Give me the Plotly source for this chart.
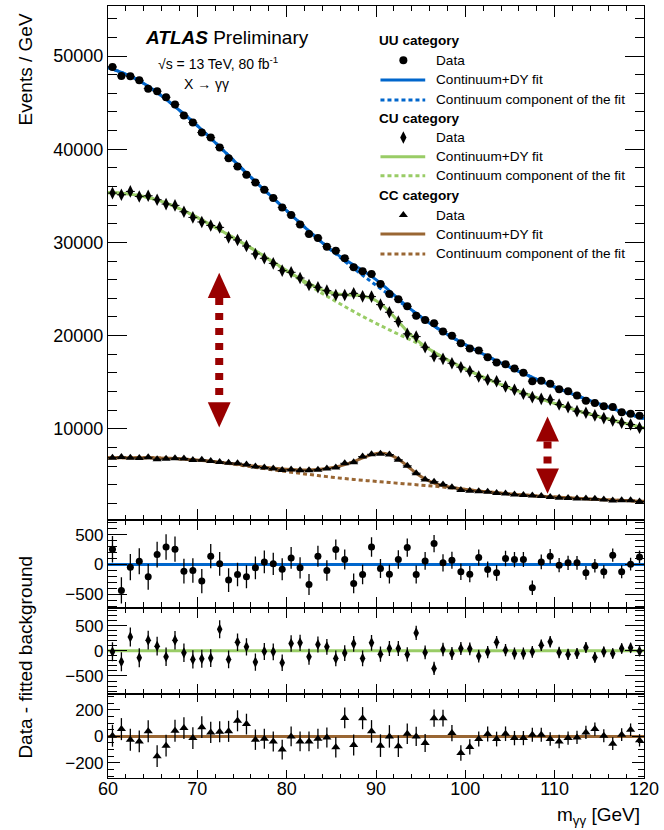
import numpy as np
import plotly.graph_objects as go

# ---------------- data ----------------
mass = np.arange(60.5, 120.0, 1.0)          # 1 GeV bin centres 60.5 ... 119.5
fit_x = np.concatenate([[60.0], mass, [120.0]])

uu_data = [48830, 47870, 47830, 47400, 46500, 46230, 45580, 44790, 43610, 42860,
           41790, 41250, 40180, 39040, 38150, 37260, 36430, 35650, 34760, 33750,
           32940, 31930, 30900, 30470, 29540, 29110, 28290, 27320, 26890, 26610,
           25540, 24470, 23890, 23140, 22140, 21680, 21320, 20430, 19970, 19170,
           18610, 18390, 17680, 17110, 16920, 16460, 16000, 15100, 15140, 14820,
           14250, 14030, 13570, 13000, 12750, 12420, 12320, 11780, 11610, 11390]
uu_fit = [48760, 48600, 48250, 47850, 47350, 46750, 46080, 45350, 44580, 43780, 42950,
          42080, 41180, 40250, 39320, 38380, 37450, 36520, 35620, 34740, 33850,
          32960, 32080, 31220, 30380, 29550, 28820, 28170, 27580, 26990, 26350,
          25620, 24800, 23950, 23130, 22380, 21680, 21020, 20400, 19830, 19280,
          18760, 18260, 17770, 17290, 16830, 16380, 15940, 15510, 15090, 14680,
          14290, 13910, 13540, 13180, 12830, 12490, 12160, 11840, 11530, 11230, 11080]
uu_cont = [48760, 48600, 48250, 47850, 47350, 46750, 46080, 45350, 44580, 43780, 42950,
           42080, 41180, 40250, 39320, 38380, 37450, 36520, 35620, 34740, 33850,
           32960, 32080, 31220, 30380, 29560, 28760, 27980, 27220, 26480, 25760,
           25060, 24380, 23720, 23070, 22370, 21680, 21020, 20400, 19830, 19280,
           18760, 18260, 17770, 17290, 16830, 16380, 15940, 15510, 15090, 14680,
           14290, 13910, 13540, 13180, 12830, 12490, 12160, 11840, 11530, 11230, 11080]
uu_res = [256, -433, -44, 56, -206, 167, 294, 256, -111, -100,
          -278, 139, 11, -261, -167, -206, -56, 44, 11, -78,
          111, -56, -333, 139, -100, 250, 83, -317, -167, 294,
          -67, -161, 83, 283, -167, 61, 350, 28, 72, -122,
          -161, 117, -83, -139, 100, 83, 83, -389, 44, 139,
          -11, 28, 28, -139, -22, -122, 156, -122, 6, 128]

cu_data = [35290, 35110, 35470, 34930, 35000, 34580, 34110, 33970, 33290, 32680,
           32190, 31820, 31610, 30540, 30260, 29610, 28760, 28290, 27750, 26970,
           26790, 26180, 25430, 25180, 24820, 24360, 24360, 24530, 24210, 24180,
           23320, 22500, 21500, 20180, 19890, 18750, 17780, 17500, 17030, 16600,
           16170, 15600, 15250, 15100, 14530, 14180, 13750, 13390, 13210, 13110,
           12600, 12320, 11890, 11710, 11430, 11140, 10890, 10640, 10460, 10110]
cu_fit = [35340, 35330, 35280, 35180, 35030, 34820, 34560, 34230, 33840, 33400, 32920,
          32410, 31880, 31340, 30800, 30250, 29690, 29110, 28510, 27900, 27280,
          26680, 26100, 25570, 25100, 24730, 24480, 24370, 24330, 24240, 23980,
          23430, 22560, 21500, 20450, 19560, 18840, 18220, 17660, 17140, 16650,
          16190, 15750, 15330, 14930, 14550, 14190, 13840, 13500, 13170, 12860,
          12560, 12270, 11950, 11680, 11420, 11170, 10920, 10670, 10430, 10190, 10070]
cu_cont = [35340, 35330, 35280, 35180, 35030, 34820, 34560, 34230, 33840, 33400, 32920,
           32410, 31880, 31340, 30800, 30250, 29690, 29100, 28480, 27850, 27220,
           26600, 25990, 25390, 24800, 24230, 23670, 23120, 22580, 22060, 21560,
           21080, 20610, 20150, 19700, 19250, 18800, 18220, 17660, 17140, 16650,
           16190, 15750, 15330, 14930, 14550, 14190, 13840, 13500, 13170, 12860,
           12560, 12270, 11950, 11680, 11420, 11170, 10920, 10670, 10430, 10190, 10070]
cu_res = [-20, -217, 276, -138, 211, 92, -118, 211, -39, -171,
          -158, -145, 428, -171, 171, 79, -224, -13, -20, -237,
          145, 158, -118, 125, 79, -151, -45, 140, -151, 158,
          -66, 46, 46, -72, 355, -33, -349, 26, -53, 46,
          39, -105, -26, 171, 13, -53, -53, -20, 112, 178,
          -33, -72, -53, 66, -132, -20, -53, 46, 59, -7]

cc_data = [6895, 6955, 6875, 6862, 6928, 6720, 6770, 6843, 6803, 6657,
           6660, 6530, 6435, 6338, 6308, 6173, 5945, 5842, 5722, 5580,
           5620, 5542, 5542, 5612, 5732, 5827, 6290, 6415, 7008, 7258,
           7320, 7230, 6665, 6020, 5230, 4560, 4308, 4018, 3715, 3425,
           3350, 3300, 3248, 3110, 3060, 2947, 2877, 2833, 2773, 2680,
           2602, 2577, 2522, 2510, 2485, 2395, 2295, 2323, 2320, 2200]
cc_fit = [6885, 6890, 6900, 6900, 6900, 6890, 6870, 6840, 6800, 6740, 6670,
          6590, 6500, 6400, 6300, 6190, 6080, 5970, 5860, 5760, 5680,
          5620, 5580, 5580, 5630, 5740, 5910, 6150, 6480, 6870, 7220,
          7390, 7230, 6740, 6000, 5230, 4610, 4170, 3880, 3690, 3550,
          3430, 3320, 3230, 3130, 3040, 2960, 2890, 2820, 2760, 2700,
          2640, 2590, 2530, 2480, 2430, 2390, 2350, 2310, 2270, 2230, 2210]
cc_cont = [6885, 6890, 6900, 6900, 6900, 6890, 6870, 6840, 6800, 6740, 6670,
           6590, 6500, 6400, 6280, 6140, 5990, 5850, 5720, 5590, 5460,
           5330, 5210, 5090, 4970, 4860, 4750, 4650, 4560, 4470, 4390,
           4310, 4230, 4150, 4070, 3990, 3910, 3830, 3740, 3650, 3550,
           3430, 3320, 3230, 3130, 3040, 2960, 2890, 2820, 2760, 2700,
           2640, 2590, 2530, 2480, 2430, 2390, 2350, 2310, 2270, 2230, 2210]
cc_res = [5, 55, -25, -38, 38, -150, -70, 43, 63, -13,
          70, 30, 35, 38, 118, 93, -25, -18, -38, -100,
          0, -38, -38, -18, -8, -83, 140, -65, 138, 38,
          -70, 0, -75, 20, 0, -50, 138, 138, 25, -125,
          -80, -20, 18, -20, 20, -13, -13, 13, 13, -20,
          -38, -13, -8, 30, 55, 5, -55, 13, 50, -30]

# double-headed arrows: (mass, top tip, bottom tip) in data units
arrows = [(72.45, 26730, 10140), (109.2, 11320, 3030)]

# ---------------- style ----------------
W, H = 664, 830
L, R, T, B = 108, 17, 5, 52
PW, PH = W - L - R, H - T - B
BLUE, GREEN, BROWN, DRED = "#0066cc", "#99cc66", "#996633", "#990000"
FONT = "Liberation Sans, Arial, Helvetica, sans-serif"


def ydom(top_px, bot_px):
    return [(H - B - bot_px) / PH, (H - B - top_px) / PH]


def px(xp):
    return (xp - L) / PW


def py(yp):
    return (H - B - yp) / PH


fig = go.Figure()

uu_err = np.sqrt(uu_data)
cu_err = np.sqrt(cu_data)
cc_err = np.sqrt(cc_data)

# main panel: continuum (dashed), fit (solid), data
for cont, fit, col in [(uu_cont, uu_fit, BLUE), (cu_cont, cu_fit, GREEN), (cc_cont, cc_fit, BROWN)]:
    fig.add_trace(go.Scatter(x=fit_x, y=cont, mode="lines", line=dict(color=col, width=3, dash="4px,3px", shape="spline"),
                             xaxis="x", yaxis="y", showlegend=False, hoverinfo="skip"))
for cont, fit, col in [(uu_cont, uu_fit, BLUE), (cu_cont, cu_fit, GREEN), (cc_cont, cc_fit, BROWN)]:
    fig.add_trace(go.Scatter(x=fit_x, y=fit, mode="lines", line=dict(color=col, width=3, shape="spline"),
                             xaxis="x", yaxis="y", showlegend=False, hoverinfo="skip"))

for d, e, sym, sz in [(uu_data, uu_err, "circle", 8), (cu_data, cu_err, "diamond-tall", 9), (cc_data, cc_err, "triangle-up", 8)]:
    fig.add_trace(go.Scatter(x=mass, y=d, mode="markers",
                             marker=dict(symbol=sym, size=sz, color="black", line=dict(width=0)),
                             error_y=dict(type="data", array=e, color="black", thickness=1.2, width=0),
                             error_x=dict(type="constant", value=0.5, color="black", thickness=1, width=0),
                             xaxis="x", yaxis="y", showlegend=False))

# residual panels
panels = [(uu_res, uu_err, "circle", 7, BLUE, "2"), (cu_res, cu_err, "diamond-tall", 8, GREEN, "3"),
          (cc_res, cc_err, "triangle-up", 8, BROWN, "4")]
for res, e, sym, sz, col, k in panels:
    fig.add_shape(type="line", xref=f"x{k} domain", yref=f"y{k}", x0=0, x1=1, y0=0, y1=0,
                  line=dict(color=col, width=3), layer="below")
    fig.add_trace(go.Scatter(x=mass, y=res, mode="markers",
                             marker=dict(symbol=sym, size=sz, color="black", line=dict(width=0)),
                             error_y=dict(type="data", array=e, color="black", thickness=1.3, width=0),
                             xaxis=f"x{k}", yaxis=f"y{k}", showlegend=False))

# arrows
head_h, head_w = 2700, 1.28
for xm, ytop, ybot in arrows:
    fig.add_shape(type="path", xref="x", yref="y",
                  path=f"M {xm} {ytop} L {xm-head_w} {ytop-head_h} L {xm+head_w} {ytop-head_h} Z",
                  fillcolor=DRED, line=dict(color=DRED, width=0))
    fig.add_shape(type="path", xref="x", yref="y",
                  path=f"M {xm} {ybot} L {xm-head_w} {ybot+head_h} L {xm+head_w} {ybot+head_h} Z",
                  fillcolor=DRED, line=dict(color=DRED, width=0))
    fig.add_shape(type="line", xref="x", yref="y", x0=xm, x1=xm, y0=ytop - head_h, y1=ybot + head_h,
                  line=dict(color=DRED, width=8, dash="7px,8px"))

# ---------------- legend & labels ----------------
leg_rows = [39.3, 59.3, 79, 99, 117.7, 136.7, 156, 175, 194.3, 214.3, 233.3, 253.3]
groups = [("UU category", "circle", 8, BLUE), ("CU category", "diamond-tall", 9, GREEN),
          ("CC category", "triangle-up", 8, BROWN)]
for i, (title, sym, sz, col) in enumerate(groups):
    y0 = leg_rows[4 * i]
    fig.add_annotation(xref="paper", yref="paper", x=px(379), y=py(y0), text=f"<b>{title}</b>", showarrow=False,
                       xanchor="left", yanchor="middle", font=dict(size=13.6, color="black", family=FONT))
    fig.add_trace(go.Scatter(x=[405], y=[leg_rows[4 * i + 1]], mode="markers",
                             marker=dict(symbol=sym, size=sz, color="black"),
                             xaxis="x5", yaxis="y5", showlegend=False, hoverinfo="skip"))
    fig.add_trace(go.Scatter(x=[382, 427], y=[leg_rows[4 * i + 2]] * 2, mode="lines",
                             line=dict(color=col, width=3), xaxis="x5", yaxis="y5", showlegend=False, hoverinfo="skip"))
    fig.add_trace(go.Scatter(x=[382, 427], y=[leg_rows[4 * i + 3]] * 2, mode="lines",
                             line=dict(color=col, width=3, dash="4px,3px"), xaxis="x5", yaxis="y5",
                             showlegend=False, hoverinfo="skip"))
    for j, txt in enumerate(["Data", "Continuum+DY fit", "Continuum component of the fit"]):
        fig.add_annotation(xref="paper", yref="paper", x=px(436), y=py(leg_rows[4 * i + 1 + j]), text=txt,
                           showarrow=False, xanchor="left", yanchor="middle",
                           font=dict(size=13.6, color="black", family=FONT))

fig.add_annotation(xref="paper", yref="paper", x=px(142.7), y=py(37), text="<b><i>ATLAS</i></b> Preliminary",
                   showarrow=False, xanchor="left", yanchor="middle", font=dict(size=19, color="black", family=FONT))
fig.add_annotation(xref="paper", yref="paper", x=px(156), y=py(62), text="√s = 13 TeV, 80 fb<sup>-1</sup>",
                   showarrow=False, xanchor="left", yanchor="middle", font=dict(size=14, color="black", family=FONT))
fig.add_annotation(xref="paper", yref="paper", x=px(182.7), y=py(83.3), text="X → γγ", showarrow=False,
                   xanchor="left", yanchor="middle", font=dict(size=14, color="black", family=FONT))
fig.add_annotation(xref="paper", yref="paper", x=px(25), y=py(68), text="Events / GeV", textangle=-90,
                   showarrow=False, xanchor="center", yanchor="middle", font=dict(size=19, color="black", family=FONT))
fig.add_annotation(xref="paper", yref="paper", x=px(25), y=py(657), text="Data - fitted background", textangle=-90,
                   showarrow=False, xanchor="center", yanchor="middle", font=dict(size=19, color="black", family=FONT))
fig.add_annotation(xref="paper", yref="paper", x=px(645), y=py(816), text="m<sub>γγ</sub> [GeV]", showarrow=False,
                   xanchor="right", yanchor="middle", font=dict(size=19, color="black", family=FONT))

# ---------------- axes ----------------
def xax(show_labels, anchor, maj, mnr):
    d = dict(domain=[0, 1], range=[60, 120], anchor=anchor, showgrid=False, zeroline=False,
             showline=True, linecolor="black", linewidth=1.2, mirror="ticks",
             ticks="inside", ticklen=maj, tickwidth=1.2, tickcolor="black", dtick=10, tick0=60,
             minor=dict(dtick=2, ticklen=mnr, tickwidth=1.2, tickcolor="black", ticks="inside"),
             showticklabels=show_labels, tickfont=dict(size=18, family=FONT, color="black"))
    if show_labels:
        d["ticklabelstandoff"] = -6
    return d


def yax(dom, rng, dtick, mdtick, maj, mnr, size, anchor):
    return dict(domain=dom, range=rng, anchor=anchor, showgrid=False, zeroline=False,
                showline=True, linecolor="black", linewidth=1.2, mirror="ticks",
                ticks="inside", ticklen=maj, tickwidth=1.2, tickcolor="black", dtick=dtick, tick0=0,
                minor=dict(dtick=mdtick, ticklen=mnr, tickwidth=1.2, tickcolor="black", ticks="inside"),
                tickformat="d", tickfont=dict(size=size, family=FONT, color="black"))


fig.update_layout(
    width=W, height=H, margin=dict(l=L, r=R, t=T, b=B),
    paper_bgcolor="white", plot_bgcolor="rgba(0,0,0,0)", showlegend=False,
    font=dict(family=FONT, color="black"),
    xaxis=xax(False, "y", 11, 5),
    xaxis2=xax(False, "y2", 10, 5),
    xaxis3=xax(False, "y3", 10, 5),
    xaxis4=xax(True, "y4", 8, 4),
    yaxis=yax(ydom(5, 520), [170, 55370], 10000, 2000, 19, 9, 18, "x"),
    yaxis2=yax(ydom(520, 607.3), [-720, 740], 500, 100, 19, 9, 17, "x2"),
    yaxis3=yax(ydom(607.3, 694), [-860, 860], 500, 100, 19, 9, 17, "x3"),
    yaxis4=yax(ydom(694, 778), [-315, 320], 200, 50, 12, 6, 17, "x4"),
    xaxis5=dict(domain=[0, 1], range=[L, W - R], visible=False, anchor="y5", fixedrange=True),
    yaxis5=dict(domain=[0, 1], range=[H - B, T], visible=False, anchor="x5", fixedrange=True),
)

fig.write_html("out.html")
